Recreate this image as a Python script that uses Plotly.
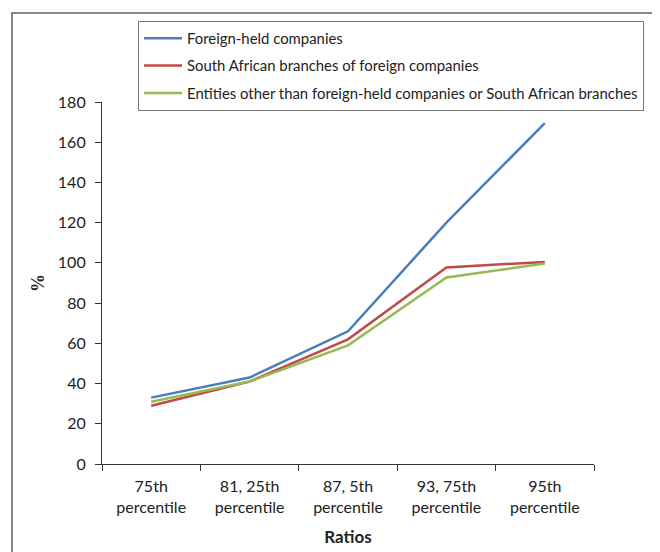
import plotly.graph_objects as go

categories = ["75th<br>percentile", "81, 25th<br>percentile", "87, 5th<br>percentile",
              "93, 75th<br>percentile", "95th<br>percentile"]
foreign_held = [33, 43, 66, 120, 169.5]
sa_branches = [29, 41, 62, 97.7, 100.5]
other_entities = [31, 41, 59, 92.7, 99.7]

series = [
    ("Foreign-held companies", foreign_held, "#4a7ebb"),
    ("South African branches of foreign companies", sa_branches, "#be4b48"),
    ("Entities other than foreign-held companies or South African branches", other_entities, "#98b954"),
]

fig = go.Figure()
for name, vals, color in series:
    fig.add_trace(go.Scatter(x=categories, y=vals, mode="lines", name=name,
                             legendgroup=name,
                             line=dict(color=color, width=2.5)))

# page body has an 8px margin, so target pixel positions are shifted by OFF
OFF = 8
W, H = 660, 552
L, T = 102 - OFF, 102 - OFF
pw, ph = 594 - 102, 464 - 102
R = W - L - pw
B = H - T - ph

def px(x):
    return (x - OFF - L) / pw

def py(y):
    return (T + ph - (y - OFF)) / ph

font = "Lato, 'Open Sans', sans-serif"
fig.update_layout(
    width=W, height=H,
    margin=dict(l=L, r=R, t=T, b=B, autoexpand=False),
    paper_bgcolor="white", plot_bgcolor="white",
    font=dict(family=font, size=16, color="#222"),
    showlegend=True,
    legend=dict(x=px(138), y=py(21), xanchor="left", yanchor="top",
                bordercolor="#777", borderwidth=1, bgcolor="white",
                font=dict(size=14.9, color="#222"),
                traceorder="grouped", tracegroupgap=5,
                itemwidth=38),
    xaxis=dict(type="category", tickson="boundaries", ticks="outside",
               range=[-0.5, 4.5], automargin=False, ticklabelstandoff=8,
               ticklen=6, tickcolor="#333", showline=True, linecolor="#333",
               linewidth=1.2, showgrid=False, zeroline=False,
               tickfont=dict(size=16),
               title=dict(text="<b>Ratios</b>", font=dict(size=17), standoff=16)),
    yaxis=dict(range=[0, 180], dtick=20, ticks="outside", ticklen=6,
               automargin=False, ticklabelstandoff=6,
               tickcolor="#333", showline=True, linecolor="#333", linewidth=1.2,
               showgrid=False, zeroline=False, tickfont=dict(size=16),
               title=dict(text="<b>%</b>", font=dict(family="'Liberation Serif', serif", size=18),
                          standoff=8)),
    shapes=[dict(type="rect", xref="paper", yref="paper",
                 x0=px(12), x1=px(655), y0=py(590), y1=py(13),
                 line=dict(color="#888", width=2), fillcolor="rgba(0,0,0,0)")],
)

fig.write_html("out.html")
